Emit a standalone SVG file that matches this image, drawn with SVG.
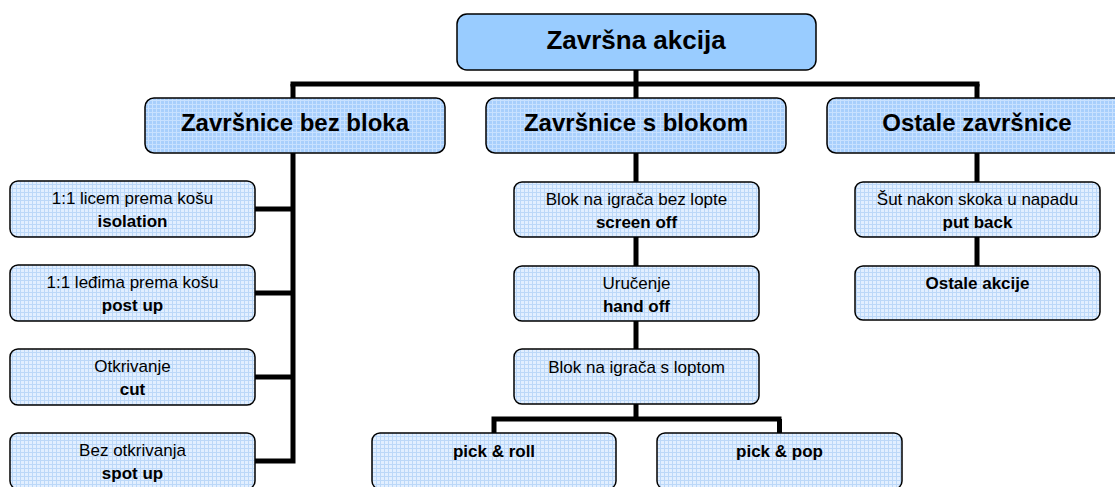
<svg xmlns="http://www.w3.org/2000/svg" width="1115" height="487" viewBox="0 0 1115 487">
<style>
text{font-family:"Liberation Sans",Arial,sans-serif;text-anchor:middle;fill:#000}
.t0{font-size:26px;font-weight:bold}
.t1{font-size:24px;font-weight:bold}
.t2{font-size:17px}
.b{font-weight:bold}
.n0{fill:#99ccff;stroke:#000;stroke-width:1.5}
.n1{fill:url(#p1);stroke:#000;stroke-width:1.5}
.n2{fill:url(#p2);stroke:#000;stroke-width:1.5}
.c{fill:none;stroke:#000;stroke-width:5}
</style>
<defs>
<pattern id="p1" width="4" height="4" patternUnits="userSpaceOnUse">
<rect width="4" height="4" fill="#a8cffc"/>
<path d="M0 0.5H4M0.5 0V4" stroke="#c8e1ff" stroke-width="1"/>
</pattern>
<pattern id="p2" width="4" height="4" patternUnits="userSpaceOnUse">
<rect width="4" height="4" fill="#e2efff"/>
<path d="M0 0.5H4M0.5 0V4" stroke="#bcd8f8" stroke-width="1"/>
</pattern>
</defs>
<g id="connectors">
<path class="c" d="M636 70V84M290.5 84H979.5"/>
<path class="c" d="M293 84V463.5M255 209H293M255 293H293M255 377H293M255 461H293"/>
<path class="c" d="M636 84V419M491.5 419H781.5M494 419V433M779.5 419V433"/>
<path class="c" d="M977 84V266"/>
</g>
<g id="n-root"><rect class="n0" x="457" y="14" width="359" height="56" rx="10"/><text class="t0" x="636" y="49">Završna akcija</text></g>
<g id="n-bez"><rect class="n1" x="145" y="98" width="300" height="55" rx="9"/><text class="t1" x="295" y="131">Završnice bez bloka</text></g>
<g id="n-s"><rect class="n1" x="486" y="98" width="300" height="55" rx="9"/><text class="t1" x="636" y="131">Završnice s blokom</text></g>
<g id="n-ost"><rect class="n1" x="827" y="98" width="300" height="55" rx="9"/><text class="t1" x="977" y="131">Ostale završnice</text></g>
<g id="n-iso"><rect class="n2" x="10" y="181" width="245" height="56" rx="8"/><text class="t2" x="132.5" y="204">1:1 licem prema košu</text><text class="t2 b" x="132.5" y="227">isolation</text></g>
<g id="n-post"><rect class="n2" x="10" y="265" width="245" height="56" rx="8"/><text class="t2" x="132.5" y="288">1:1 leđima prema košu</text><text class="t2 b" x="132.5" y="311">post up</text></g>
<g id="n-cut"><rect class="n2" x="10" y="349" width="245" height="56" rx="8"/><text class="t2" x="132.5" y="372">Otkrivanje</text><text class="t2 b" x="132.5" y="395">cut</text></g>
<g id="n-spot"><rect class="n2" x="10" y="433" width="245" height="56" rx="8"/><text class="t2" x="132.5" y="456">Bez otkrivanja</text><text class="t2 b" x="132.5" y="479">spot up</text></g>
<g id="n-screen"><rect class="n2" x="514" y="182" width="245" height="55" rx="8"/><text class="t2" x="636.5" y="205">Blok na igrača bez lopte</text><text class="t2 b" x="636.5" y="228">screen off</text></g>
<g id="n-hand"><rect class="n2" x="514" y="266" width="245" height="55" rx="8"/><text class="t2" x="636.5" y="289">Uručenje</text><text class="t2 b" x="636.5" y="312">hand off</text></g>
<g id="n-blok"><rect class="n2" x="514" y="349" width="245" height="55" rx="8"/><text class="t2" x="636.5" y="373">Blok na igrača s loptom</text></g>
<g id="n-roll"><rect class="n2" x="372" y="433" width="244" height="56" rx="8"/><text class="t2 b" x="494" y="457">pick &amp; roll</text></g>
<g id="n-pop"><rect class="n2" x="657" y="433" width="245" height="56" rx="8"/><text class="t2 b" x="779.5" y="457">pick &amp; pop</text></g>
<g id="n-put"><rect class="n2" x="855" y="182" width="245" height="55" rx="8"/><text class="t2" x="977.5" y="205">Šut nakon skoka u napadu</text><text class="t2 b" x="977.5" y="228">put back</text></g>
<g id="n-akc"><rect class="n2" x="855" y="266" width="245" height="54" rx="8"/><text class="t2 b" x="977.5" y="289">Ostale akcije</text></g>
</svg>
